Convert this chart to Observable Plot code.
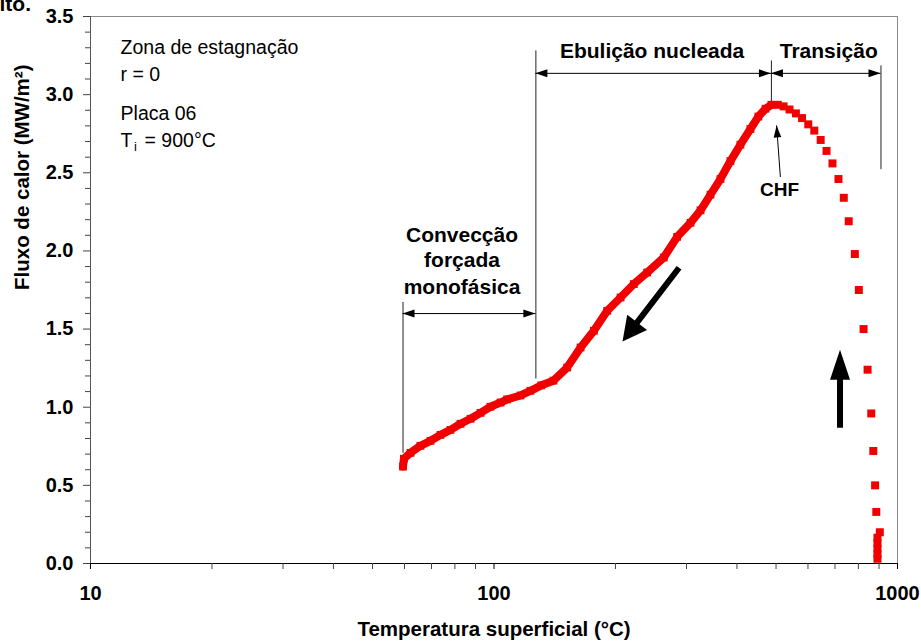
<!DOCTYPE html>
<html><head><meta charset="utf-8">
<script src="https://cdn.jsdelivr.net/npm/d3@7"></script>
<script src="https://cdn.jsdelivr.net/npm/@observablehq/plot@0.6"></script>
<style>
body{margin:0;background:#fff;}
#chart svg{display:block;}
</style></head><body><div id="chart"></div>
<script>
// Cooling curve: dense measurements, single-phase convection + nucleate boiling (°C, MW/m²)
const tempCooling = [59.5, 59.8, 62.1, 65.7, 69.6, 73.7, 78.0, 82.6, 87.5, 92.6, 98.0, 103.8, 107.8, 116.3, 123.1, 131, 140.4, 151.8, 163.9, 176.8, 190.8, 205.9, 222.1, 239.7, 263.5, 284.4, 306.9, 325, 344, 364, 385.5, 408, 432, 452, 471, 487];
const fluxCooling = [0.62, 0.67, 0.708, 0.753, 0.785, 0.823, 0.855, 0.894, 0.926, 0.964, 1.003, 1.03, 1.05, 1.075, 1.105, 1.14, 1.17, 1.254, 1.382, 1.489, 1.617, 1.702, 1.788, 1.862, 1.958, 2.09, 2.18, 2.26, 2.36, 2.46, 2.575, 2.68, 2.78, 2.86, 2.91, 2.935];
// Transition boiling: sparse measurements
const tempTransition = [505, 522, 540, 560, 580, 601, 622, 645, 667, 690, 714, 736, 757, 784, 802, 824, 843, 861, 871, 880, 886, 904, 892, 892, 892, 892, 892];
const fluxTransition = [2.935, 2.925, 2.905, 2.88, 2.85, 2.81, 2.77, 2.71, 2.64, 2.56, 2.46, 2.34, 2.19, 1.98, 1.75, 1.50, 1.24, 0.96, 0.72, 0.50, 0.33, 0.20, 0.165, 0.13, 0.095, 0.06, 0.03];

// Axis ticks
const xMajorTicks = [10, 100, 1000];
const xMinorTicks = [20, 30, 40, 50, 60, 70, 80, 90, 200, 300, 400, 500, 600, 700, 800, 900];
const yMajorTicks = [0, 0.5, 1.0, 1.5, 2.0, 2.5, 3.0, 3.5];
const yMinorTicks = [0.1,0.2,0.3,0.4,0.6,0.7,0.8,0.9,1.1,1.2,1.3,1.4,1.6,1.7,1.8,1.9,2.1,2.2,2.3,2.4,2.6,2.7,2.8,2.9,3.1,3.2,3.3,3.4];

// Regime boundaries (temperature, flux extent)
const boundaryT = [59.5, 127, 487, 910];
const boundaryTop = [1.67, 3.28, 3.215, 3.184];
const boundaryBottom = [0.705, 1.18, 2.93, 2.52];

// Regime labels
const regionLabels = ["Ebulição nucleada", "Transição", "Convecção", "forçada", "monofásica"];
const regionLabelT = [246.5, 675.5, 83.3, 83.3, 83.3];
const regionLabelQ = [3.235, 3.235, 2.054, 1.894, 1.726];

// Notes in the top-left corner
const noteLines = ["Zona de estagnação", "r = 0", "Placa 06"];
const noteQ = [3.259, 3.088, 2.837];
const noteT = 11.87;

const cooling = tempCooling.map((t, i) => ({t, q: fluxCooling[i]}));
const transition = tempTransition.map((t, i) => ({t, q: fluxTransition[i]}));
const boundaries = boundaryT.map((t, i) => ({t, q1: boundaryBottom[i], q2: boundaryTop[i]}));
const labels = regionLabels.map((s, i) => ({s, t: regionLabelT[i], q: regionLabelQ[i]}));
const notes = noteLines.map((s, i) => ({s, t: noteT, q: noteQ[i]}));

const FONT = "'Liberation Sans', Arial, Helvetica, sans-serif";
const RED = "#f20000";

const chart = Plot.plot({
  width: 921, height: 642,
  marginLeft: 90, marginRight: 24, marginTop: 16, marginBottom: 79,
  style: {fontFamily: FONT, background: "#fff", color: "#000"},
  x: {type: "log", domain: [10, 1000]},
  y: {domain: [0, 3.5]},
  marks: [
    Plot.frame({stroke: "#8a8a8a"}),
    Plot.ruleY([0], {stroke: "#000", strokeWidth: 1.2}),
    Plot.ruleX([10], {stroke: "#555"}),
    Plot.axisY(yMinorTicks, {tickSize: 5, tickFormat: () => "", label: null, stroke: "#444"}),
    Plot.axisY(yMajorTicks, {tickSize: 7, tickPadding: 10, tickFormat: d3.format(".1f"), fontSize: 20, fontWeight: "bold", label: null, stroke: "#444"}),
    Plot.axisX(xMinorTicks, {tickSize: 6, tickFormat: () => "", label: null, stroke: "#444"}),
    Plot.axisX(xMajorTicks, {tickSize: 6, tickPadding: 16, tickFormat: d => String(d), fontSize: 20, fontWeight: "bold", label: null}),
    Plot.ruleX(boundaries, {x: "t", y1: "q1", y2: "q2", stroke: "#222", strokeWidth: 1}),
    Plot.line(cooling, {x: "t", y: "q", stroke: RED, strokeWidth: 8}),
    Plot.dot(cooling, {x: "t", y: "q", symbol: "square", r: 4.4, fill: RED}),
    Plot.dot(transition, {x: "t", y: "q", symbol: "square", r: 4.5, fill: RED}),
    Plot.text(labels, {x: "t", y: "q", text: "s", lineAnchor: "bottom", fontSize: 21, fontWeight: "bold"}),
    Plot.text(["CHF"], {x: [510], y: [2.35], text: d => d, lineAnchor: "bottom", fontSize: 19, fontWeight: "bold"}),
    Plot.text(notes, {x: "t", y: "q", text: "s", lineAnchor: "bottom", textAnchor: "start", fontSize: 19.5}),
    Plot.text(["T"], {x: [noteT], y: [2.666], text: d => d, lineAnchor: "bottom", textAnchor: "start", fontSize: 19.5}),
    Plot.text(["i"], {x: [noteT], y: [2.666], text: d => d, lineAnchor: "bottom", textAnchor: "start", fontSize: 13, dx: 13.5, dy: 4}),
    Plot.text(["= 900°C"], {x: [noteT], y: [2.666], text: d => d, lineAnchor: "bottom", textAnchor: "start", fontSize: 19.5, dx: 24}),
    Plot.text(["Fluxo de calor (MW/m²)"], {text: d => d, frameAnchor: "left", dx: -68, rotate: -90, fontSize: 20.5, fontWeight: "bold"}),
    Plot.text(["Temperatura superficial (°C)"], {text: d => d, frameAnchor: "bottom", dy: 72, lineAnchor: "bottom", fontSize: 20.5, fontWeight: "bold"}),
    Plot.text(["ito."], {text: d => d, frameAnchor: "top-left", dx: -91, dy: -6, lineAnchor: "bottom", textAnchor: "start", fontSize: 21, fontWeight: "bold"})
  ]
});
document.getElementById("chart").append(chart);

// Annotation arrows drawn through the plot's own scales
const sx = chart.scale("x"), sy = chart.scale("y");
const P = (t, q) => [sx.apply(t), sy.apply(q)];
const svg = d3.select(chart);
const g = svg.append("g").attr("aria-label", "annotations");

function head(tip, from, len, hw) {
  const dx = tip[0] - from[0], dy = tip[1] - from[1], L = Math.hypot(dx, dy);
  const ux = dx / L, uy = dy / L, nx = -uy, ny = ux;
  const bx = tip[0] - ux * len, by = tip[1] - uy * len;
  return `M${tip[0]},${tip[1]}L${bx + nx * hw},${by + ny * hw}L${bx - nx * hw},${by - ny * hw}Z`;
}

// Dimension arrows between regime boundaries
const dimSpans = [[127, 487, 3.133], [487, 910, 3.133], [59.5, 127, 1.596]];
for (const [t1, t2, q] of dimSpans) {
  const a = P(t1, q), b = P(t2, q);
  g.append("line").attr("x1", a[0]).attr("y1", a[1]).attr("x2", b[0]).attr("y2", b[1]).attr("stroke", "#000").attr("stroke-width", 1);
  g.append("path").attr("d", head(a, b, 12, 4)).attr("fill", "#000");
  g.append("path").attr("d", head(b, a, 12, 4)).attr("fill", "#000");
}

// CHF pointer
{
  const a = P(514, 2.47), b = P(503, 2.8);
  g.append("line").attr("x1", a[0]).attr("y1", a[1]).attr("x2", b[0]).attr("y2", b[1]).attr("stroke", "#000").attr("stroke-width", 1);
  g.append("path").attr("d", head(b, a, 12, 3.8)).attr("fill", "#000");
}

// Thick direction arrows
function thick(tail, tip, shaft, len, hw) {
  const dx = tip[0] - tail[0], dy = tip[1] - tail[1], L = Math.hypot(dx, dy);
  const ux = dx / L, uy = dy / L, nx = -uy, ny = ux;
  const bx = tip[0] - ux * len, by = tip[1] - uy * len, s = shaft / 2;
  const pts = [
    [tail[0] + nx * s, tail[1] + ny * s], [bx + nx * s, by + ny * s], [bx + nx * hw, by + ny * hw],
    tip, [bx - nx * hw, by - ny * hw], [bx - nx * s, by - ny * s], [tail[0] - nx * s, tail[1] - ny * s]
  ];
  return "M" + pts.map(p => p.join(",")).join("L") + "Z";
}
g.append("path").attr("d", thick(P(288.3, 1.889), P(208.8, 1.418), 6, 24, 12.5)).attr("fill", "#000");
g.append("path").attr("d", thick(P(722.4, 0.866), P(722.4, 1.365), 6, 30, 10)).attr("fill", "#000");
</script>
</body></html>
